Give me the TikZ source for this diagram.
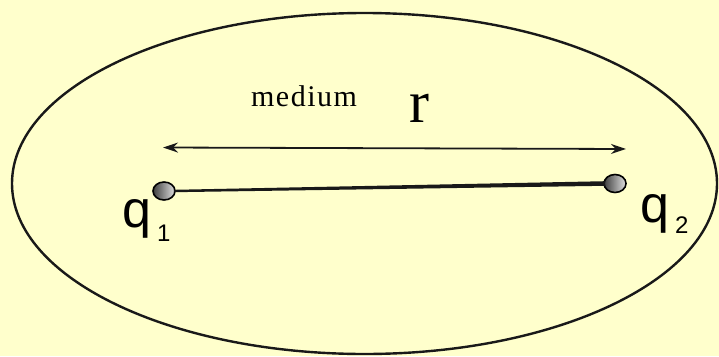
\documentclass[tikz,border=0pt]{standalone}
\usepackage{fontspec}
\setmainfont{Liberation Serif}
\newfontfamily\chargefont{Liberation Sans}
\newfontfamily\medfont[LetterSpace=5]{Liberation Serif}
\usetikzlibrary{arrows.meta,shapes.geometric,calc}
\definecolor{paper}{HTML}{FFFFCC}

\begin{document}
\begin{tikzpicture}[
  x=1pt, y=-1pt,
  >={Stealth[length=15pt,width=10pt]},
  charge/.style={ellipse, draw=black, line width=1.6pt, minimum width=22pt,
    minimum height=18pt, inner sep=0pt, left color=black!75, right color=black!12},
  qlabel/.style={font=\chargefont\fontsize{52}{52}\selectfont, inner sep=0pt, anchor=base},
  qsub/.style={font=\chargefont\fontsize{24}{24}\selectfont, inner sep=0pt, anchor=base west},
]
  % Background
  \fill[paper] (0,0) rectangle (719,356);
  \useasboundingbox (0,0) rectangle (719,356);

  % Medium
  \draw[black!90, line width=2.4pt] (364.5,183.5) ellipse [x radius=352.5, y radius=170.5];
  \node[font=\medfont\fontsize{30}{30}\selectfont, anchor=base, inner sep=0pt] (medium) at (304,106) {medium};

  % Distance r
  \coordinate (rleft) at (163,147.5);
  \coordinate (rright) at (626,149);
  \draw[<->, line width=1.8pt, black!90] (rleft) -- (rright);
  \node[font=\fontsize{60}{60}\selectfont, anchor=base, inner sep=0pt] (r) at (419,122) {r};

  % Charges
  \node[charge] (c1) at (164,191) {};
  \node[charge] (c2) at (615,183.5) {};
  % line between them, a bit thicker at q2
  \fill[black!90] ($(c1.east)+(-2,-1.2)$) -- ($(c2.west)+(2,-2.3)$)
    -- ($(c2.west)+(2,2.3)$) -- ($(c1.east)+(-2,1.2)$) -- cycle;

  \node[qlabel] (q1) at (136.5,227) {q};
  \node[qsub] (s1) at (157,241) {1};
  \node[qlabel] (q2) at (655,222) {q};
  \node[qsub] (s2) at (675,233) {2};
\end{tikzpicture}
\end{document}
